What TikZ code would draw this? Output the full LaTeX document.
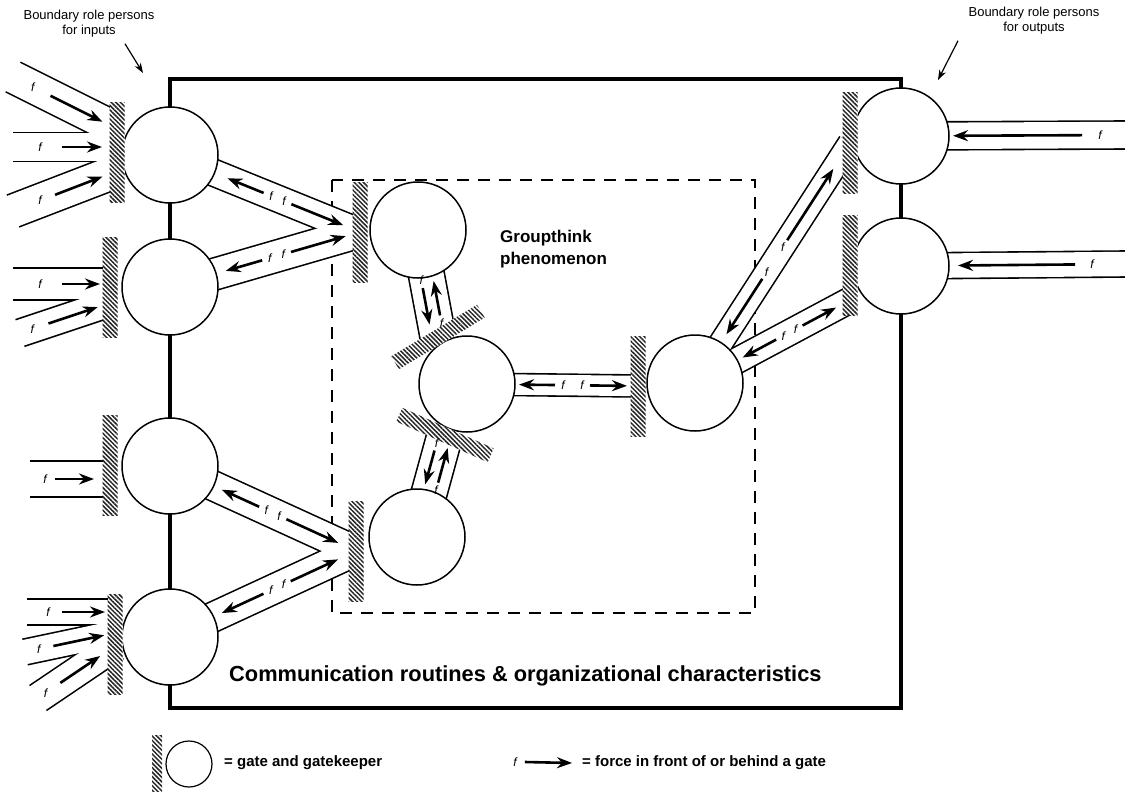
\documentclass[tikz,border=0pt]{standalone}
\usepackage{fontspec}
\setmainfont{Liberation Sans}
\usetikzlibrary{arrows.meta,calc,patterns.meta}
\pgfdeclarelayer{back}
\pgfdeclarelayer{bands}
\pgfsetlayers{back,bands,main}

\begin{document}
\begin{tikzpicture}[x=1pt,y=-1pt,
		person/.style={circle,draw,line width=1.5pt,fill=white,minimum size=96pt,inner sep=0pt},
		gate/.style={rectangle,minimum width=15pt,minimum height=100pt,inner sep=0pt,preaction={fill=white},pattern={Lines[angle=-45,distance=3.2pt,line width=1.5pt]},pattern color=black!85},
		force/.style={line width=2.6pt,-{Stealth[length=15pt,width=11pt,inset=5pt]}},
		pointer/.style={line width=1.2pt,-{Stealth[length=10pt,width=7pt,inset=3pt]}},
		fl/.style={inner sep=0pt,font=\fontsize{12}{12}\selectfont\itshape},
		note/.style={inner sep=0pt,align=center,font=\fontsize{13}{15}\selectfont},
		key/.style={inner sep=0pt,anchor=west,font=\bfseries\fontsize{15}{17}\selectfont},
	]
	\useasboundingbox (0,0) rectangle (1125,792);
	\begin{pgfonlayer}{back}
		\draw[line width=1.5pt,dash pattern=on 12pt off 9pt] (332,180) rectangle (755,613);
		\draw[line width=3.8pt] (170,79) rectangle (901,708);
	\end{pgfonlayer}

	\node[person] (bi1) at (170,155) {};
	\node[person] (bi2) at (170,287) {};
	\node[person] (bi3) at (170,466) {};
	\node[person] (bi4) at (170,637) {};
	\node[person] (gt1) at (418,230) {};
	\node[person] (gt2) at (467,384) {};
	\node[person] (gt3) at (417,537) {};
	\node[person] (rp) at (695,383) {};
	\node[person] (bo1) at (901,136) {};
	\node[person] (bo2) at (901,266) {};

	\node[gate] (gbi1) at (117,152) {};
	\node[gate] (gbi2) at (110,287) {};
	\node[gate] (gbi3) at (110,465) {};
	\node[gate] (gbi4) at (115,644) {};
	\node[gate] (ggt1) at (360,232) {};
	\node[gate,rotate=-59] (ggt2a) at (438,337) {};
	\node[gate,rotate=66] (ggt2b) at (445,435) {};
	\node[gate] (ggt3) at (356,551) {};
	\node[gate] (grp) at (638,386) {};
	\node[gate] (gbo1) at (850,143) {};
	\node[gate] (gbo2) at (850,265) {};

	\path
	(13,77) coordinate (ia1) (13,147) coordinate (ia2) (13,211) coordinate (ia3)
	(13,284) coordinate (ib1) (20,333) coordinate (ib2) (30,479) coordinate (ic1)
	(27,612) coordinate (id1) (25,652) coordinate (id2) (38,698) coordinate (id3)
	(1125,135) coordinate (oa) (1125,264) coordinate (ob)
	($(gbi1)+(0,-23)$) coordinate (ta1) ($(gbi1)+(0,-5)$) coordinate (ta2) ($(gbi1)+(0,19)$) coordinate (ta3)
	($(gbi2)+(0,-3)$) coordinate (tb1) ($(gbi2)+(0,16)$) coordinate (tb2)
	($(gbi3)+(0,14)$) coordinate (tc1)
	($(gbi4)+(0,-32)$) coordinate (td1) ($(gbi4)+(0,-11)$) coordinate (td2) ($(gbi4)+(0,2)$) coordinate (td3)
	($(gbo2.center)!.7!(gbo2.south)$) coordinate (tbo2)
	;

	\begin{pgfonlayer}{bands}
		\foreach \col/\ext/\sh in {black/1.6/0,white/-1.6/-4}
			\foreach \src/\dst/\bw in {bi1/ggt1/27,bi2/ggt1/32,bi3/ggt3/30,bi4/ggt3/30,gt1/ggt2a/36,gt3/ggt2b/36,gt2/grp/22,rp/gbo1/24,rp/tbo2/26,ia1/ta1/33,ia2/ta2/29,ia3/ta3/34,ib1/tb1/32,ib2/tb2/28,ic1/tc1/36,id1/td1/26,id2/td2/26,id3/td3/30,oa/bo1/28,ob/bo2/26}
				\draw[draw=\col,line width=\bw*1pt+(\ext)*1pt,shorten <=\sh pt] (\src.center) -- (\dst.center);
	\end{pgfonlayer}

	\foreach \src/\dst/\ta/\pa/\tb/\pb/\off in {bi1/ggt1/101/62/131/187/0,bi2/ggt1/96/58/126/183/0,bi3/ggt3/98/57/128/185/0,bi4/ggt3/103/57/133/185/0,gt1/ggt2a/88/53/58/95/6,gt3/ggt2b/88/53/58/94/6,gt2/grp/88/52/123/160/0,rp/gbo1/124/58/170/255/0,rp/tbo2/92/54/122/160/0}{
		\draw[force] ($(\src)!{\ta*1pt}!(\dst)!{\off*1pt}!90:(\dst)$) -- ($(\src)!{\pa*1pt}!(\dst)!{\off*1pt}!90:(\dst)$);
		\draw[force] ($(\src)!{\tb*1pt}!(\dst)!{-\off*1pt}!90:(\dst)$) -- ($(\src)!{\pb*1pt}!(\dst)!{-\off*1pt}!90:(\dst)$);
		\node[fl] (fa-\src-\dst) at ($(\src)!{(\ta+8)*1pt}!(\dst)!{\off*1pt}!90:(\dst)$) {f};
		\node[fl] (fb-\src-\dst) at ($(\src)!{(\tb-8)*1pt}!(\dst)!{-\off*1pt}!90:(\dst)$) {f};
	}
	\foreach \src/\dst/\fp/\ta/\pa in {ia1/ta1/22/42/100,ia2/ta2/27/49/89,ia3/ta3/29/45/96,ib1/tb1/27/49/87,ib2/tb2/13/30/82,ic1/tc1/15/25/64,id1/td1/21/35/78,id2/td2/14/29/81,id3/td3/9/27/75,oa/bo1/25/43/172,ob/bo2/33/50/167}{
		\draw[force] ($(\src)!{\ta*1pt}!(\dst)$) -- ($(\src)!{\pa*1pt}!(\dst)$);
		\node[fl] (f-\src) at ($(\src)!{\fp*1pt}!(\dst)$) {f};
	}

	\node[note] (tin) at (89,24) {Boundary role persons\\for inputs};
	\node[note] (tout) at (1034,21) {Boundary role persons\\for outputs};
	\coordinate (pin) at (143,73);
	\coordinate (pout) at (938,80);
	\draw[pointer] ($(tin.south)+(36,6)$) -- (pin);
	\draw[pointer] ($(tout.south)+(-76,6)$) -- (pout);

	\node[inner sep=0pt,anchor=west,align=left,font=\bfseries\fontsize{17}{22}\selectfont] (gtxt) at (500,249) {Groupthink\\phenomenon};
	\node[inner sep=0pt,anchor=west,font=\bfseries\fontsize{21.8}{24}\selectfont] (ctxt) at (229,676) {Communication routines \& organizational characteristics};

	\node[gate,minimum width=10pt,minimum height=56pt] (kgate) at (157,763) {};
	\node[person,line width=1.2pt,minimum size=46pt] (kperson) at (189,764) {};
	\node[key] (ktxt1) at (224,763) {= gate and gatekeeper};
	\node[fl] (kf) at (515,762) {f};
	\node[key] (ktxt2) at (582,763) {= force in front of or behind a gate};
	\draw[force] ([xshift=8pt]kf.east) -- ([xshift=-10pt]ktxt2.west);
\end{tikzpicture}
\end{document}
